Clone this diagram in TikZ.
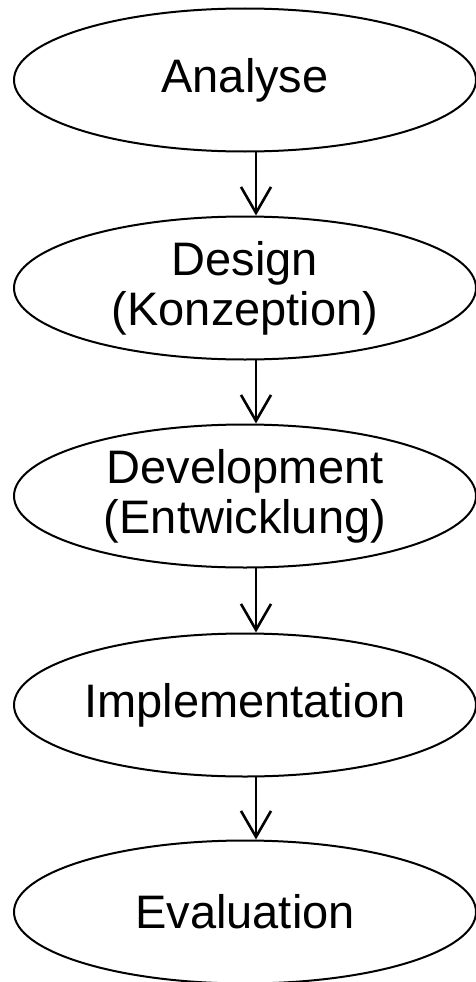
\documentclass[tikz,border=0pt]{standalone}
\usepackage{fontspec}
\setmainfont{Liberation Sans}
\usetikzlibrary{shapes.geometric,arrows.meta}

\begin{document}
\begin{tikzpicture}[line cap=round,line join=round,x=1pt,y=1pt,
  phase/.style={draw,ellipse,line width=2pt,minimum width=462pt,minimum height=143pt,
    inner sep=0pt,align=center,font=\fontsize{47}{50}\selectfont},
  flow/.style={line width=2.6pt,-{Straight Barb[length=26pt,width=30pt,line width=2.6pt]}}]
\useasboundingbox (0,0) rectangle (475,-982);
\node [phase] (ana) at (245,-80) {Analyse};
\node [phase] (des) at (245,-288) {Design\\(Konzeption)};
\node [phase] (dev) at (245,-496) {Development\\(Entwicklung)};
\node [phase] (imp) at (245,-705) {Implementation};
\node [phase] (eva) at (245,-912) {Evaluation};
\draw [flow] ([xshift=11pt]ana.south) -- ([xshift=11pt]des.north);
\draw [flow] ([xshift=11pt]des.south) -- ([xshift=11pt]dev.north);
\draw [flow] ([xshift=11pt]dev.south) -- ([xshift=11pt]imp.north);
\draw [flow] ([xshift=11pt]imp.south) -- ([xshift=11pt]eva.north);
\end{tikzpicture}
\end{document}
